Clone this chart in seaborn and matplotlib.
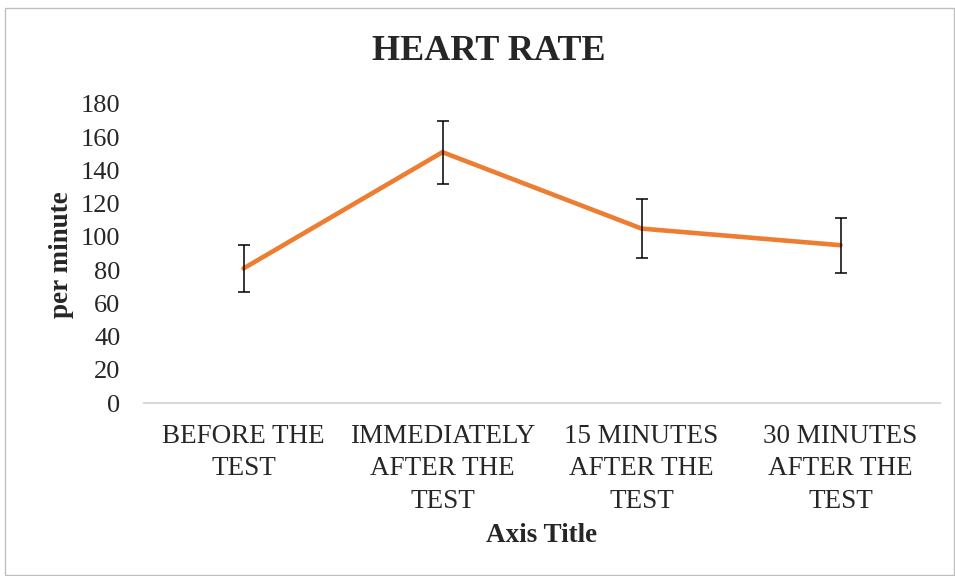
import pandas as pd
import seaborn as sns
import matplotlib.pyplot as plt
from matplotlib.patches import Rectangle

# Heart rate readings (mean and error)
stages = ['BEFORE THE\nTEST', 'IMMEDIATELY\nAFTER THE\nTEST',
          '15 MINUTES\nAFTER THE\nTEST', '30 MINUTES\nAFTER THE\nTEST']
heart_rate = [81, 151, 105, 95]
heart_rate_err = [14, 19, 18, 16.5]
y_ticks = [0, 20, 40, 60, 80, 100, 120, 140, 160, 180]

data = pd.DataFrame({'stage': stages, 'rate': heart_rate})

sns.set_style('white')
plt.rcParams['font.family'] = ['Liberation Serif', 'DejaVu Serif']

fig = plt.figure(figsize=(9.55, 5.76), dpi=100)
ax = fig.add_axes([144 / 955, 1 - 403 / 576, 796 / 955, 299 / 576])

# Line through the means
sns.lineplot(data=data, x='stage', y='rate', color='#ED7D31', linewidth=3.3,
             sort=False, ax=ax, zorder=2)

# Error bars
ax.errorbar(data['stage'], data['rate'], yerr=heart_rate_err, fmt='none',
            ecolor='black', elinewidth=1.1, capsize=4.5, capthick=1.1, zorder=3)

ax.set_xlim(-0.5, len(stages) - 0.5)
ax.set_ylim(0, 180)
ax.set_yticks(y_ticks)
ax.set_yticklabels([str(v) for v in y_ticks])
ax.tick_params(axis='both', length=0)
ax.tick_params(axis='y', pad=17, labelsize=19)
ax.tick_params(axis='x', pad=15, labelsize=19.5)
for lbl in ax.get_xticklabels():
    lbl.set_linespacing(1.4)

for side in ['top', 'right', 'left']:
    ax.spines[side].set_visible(False)
ax.spines['bottom'].set_color('#D9D9D9')
ax.spines['bottom'].set_linewidth(1.5)
ax.set_xlabel('')
ax.set_ylabel('')

fig.text(489 / 955, 1 - 52 / 576, 'HEART RATE', ha='center', va='center',
         fontsize=26, fontweight='bold')
fig.text(542 / 955, 1 - 535 / 576, 'Axis Title', ha='center', va='center',
         fontsize=19.5, fontweight='bold')
fig.text(62 / 955, 1 - 255 / 576, 'per minute', ha='center', va='center',
         rotation=90, fontsize=19.5, fontweight='bold')

# Chart border
fig.patches.append(Rectangle((5 / 955, 0.002), 949 / 955, 1 - 8 / 576 - 0.002,
                             transform=fig.transFigure, fill=False,
                             edgecolor='#BFBFBF', linewidth=1))

fig.savefig('out.png', dpi=100)
